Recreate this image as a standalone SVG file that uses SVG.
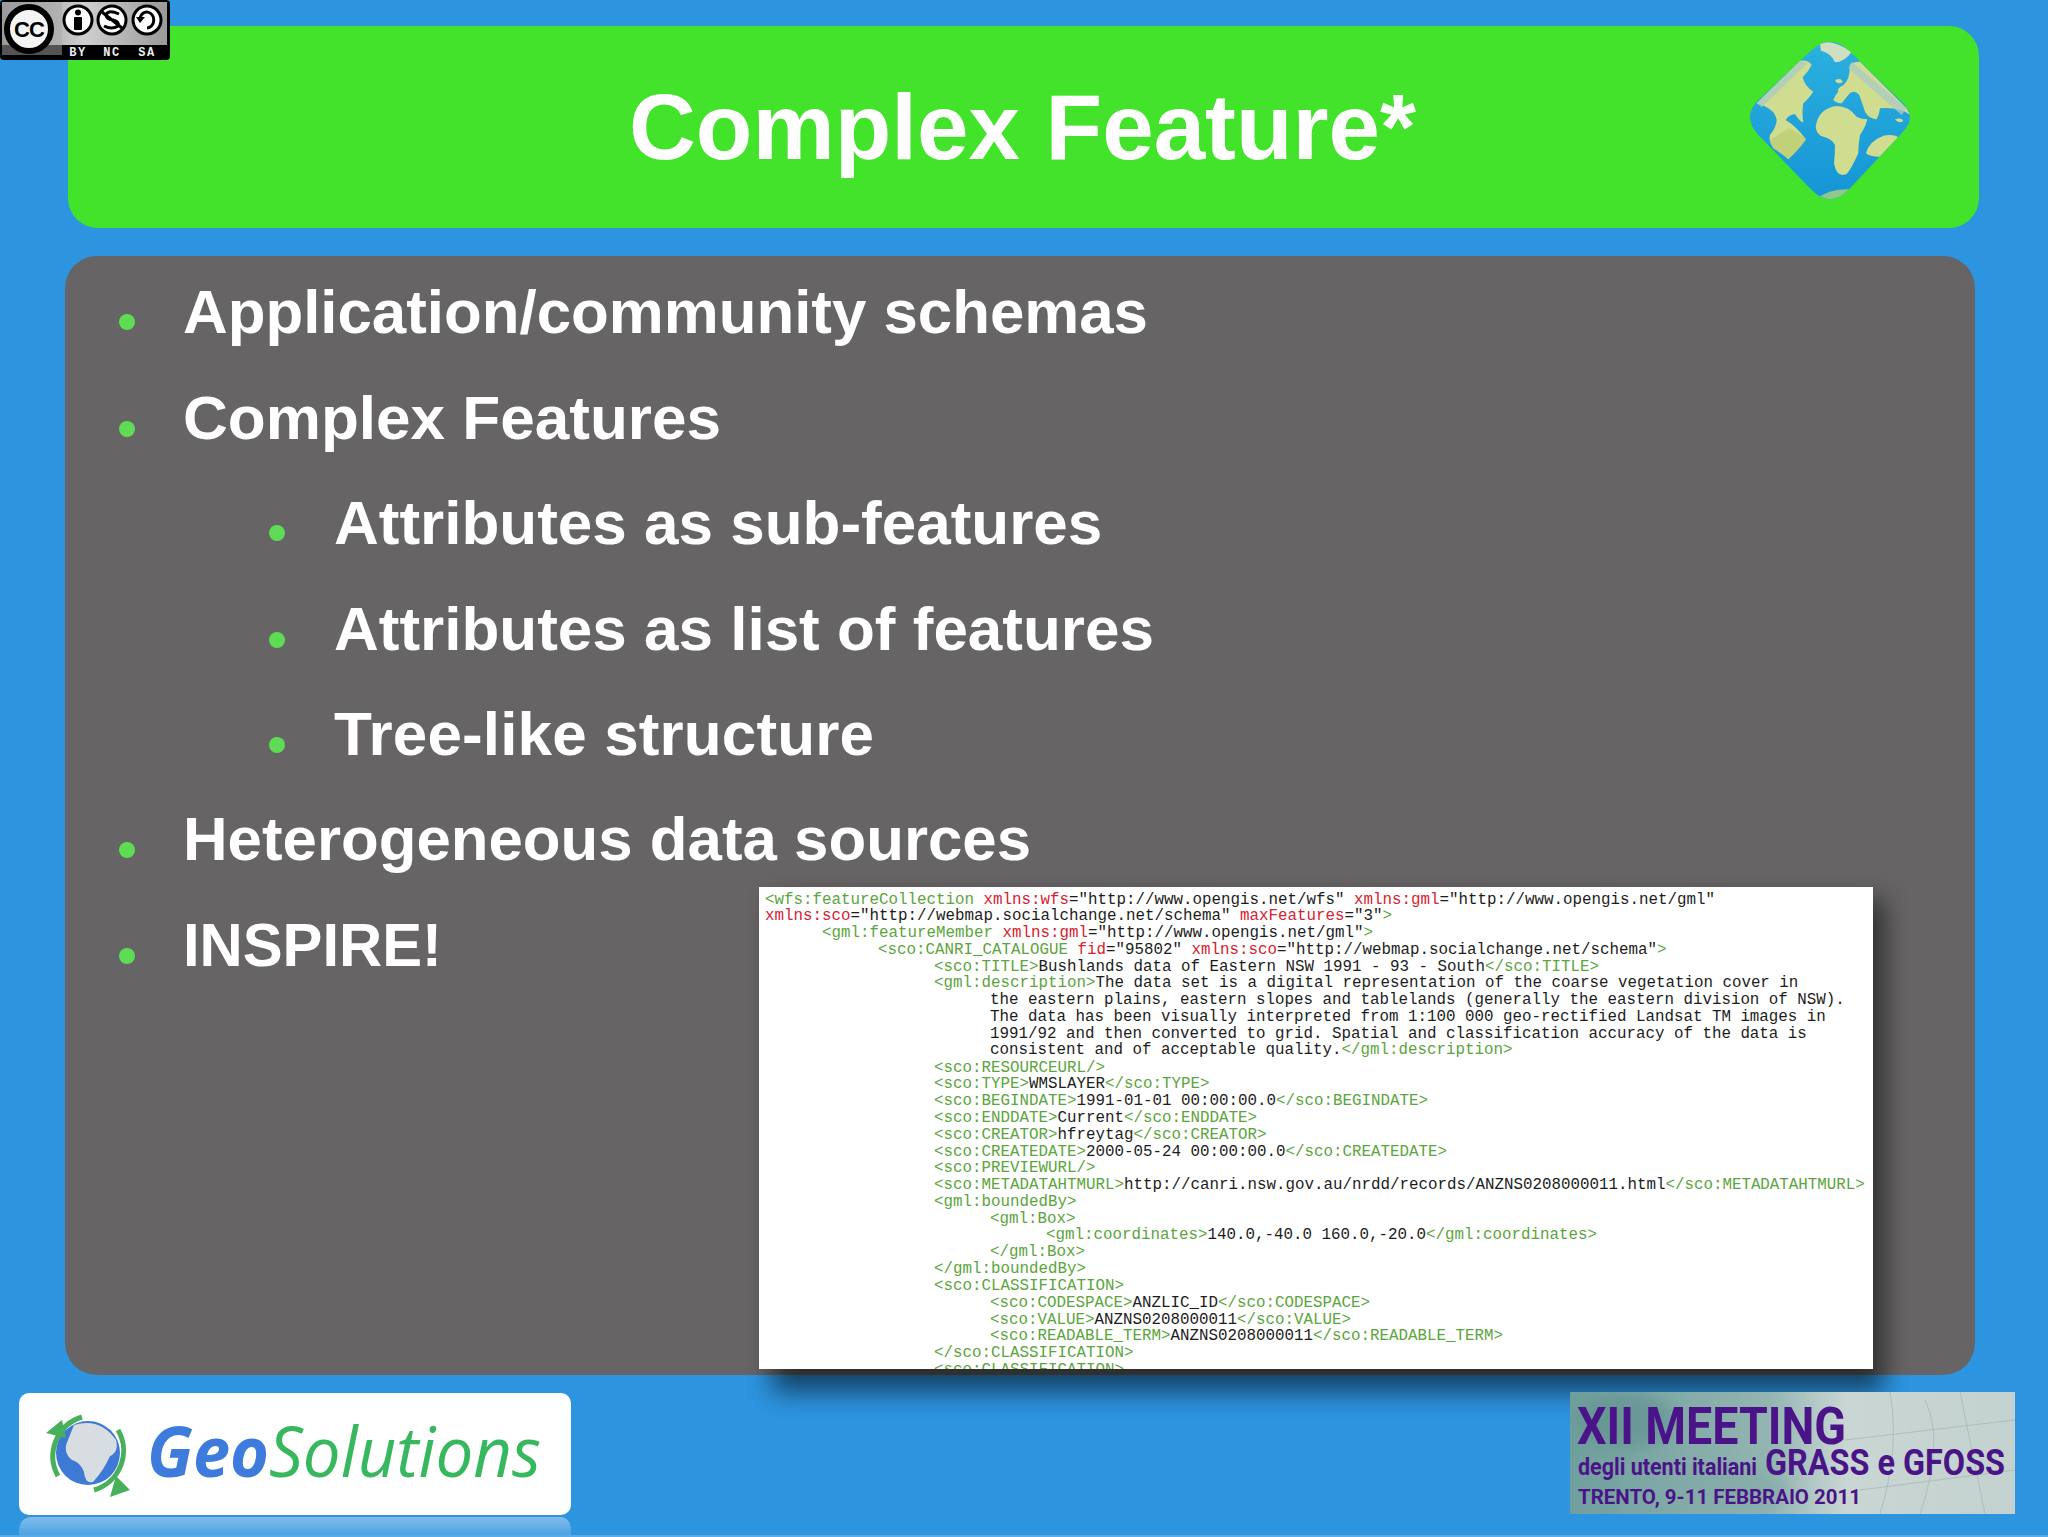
<svg xmlns="http://www.w3.org/2000/svg" width="2048" height="1537" viewBox="0 0 2048 1537">
<style>
.b{font-family:"Liberation Sans",Arial,sans-serif;font-weight:700;font-size:62px;fill:#fff}
.d{fill:#5fdc55}
.x{font-family:"Liberation Mono","Courier New",monospace;font-size:15.83px;fill:#1c1c1c}
.t{fill:#5aa53c}
.a{fill:#d9202f}
.m{font-family:"Roboto","Liberation Sans",sans-serif;font-weight:700;fill:#4a1488}
.l{fill:#d0dc90}
.cc{font-family:"Liberation Mono",monospace;font-weight:700;font-size:12px;letter-spacing:1.5px;fill:#eee;text-anchor:middle}
</style>
<defs>
<filter id="sh" x="-10%" y="-10%" width="120%" height="120%"><feGaussianBlur stdDeviation="13"/></filter>
<filter id="bl" x="-30%" y="-30%" width="160%" height="160%"><feGaussianBlur stdDeviation="8"/></filter>
<clipPath id="xc"><rect x="759" y="887" width="1114" height="482"/></clipPath>
<clipPath id="mc"><rect x="1570" y="1392" width="445" height="122"/></clipPath>
<clipPath id="gc"><path d="M275 90Q330 40 385 90L545 245Q595 290 545 340L385 510Q330 565 275 510L115 345Q65 290 115 240Z"/></clipPath>
<linearGradient id="rf" x1="0" y1="0" x2="0" y2="1"><stop offset="0" stop-color="#82bcea"/><stop offset="1" stop-color="#4da3e3"/></linearGradient>
<linearGradient id="mg" x1="0" y1="0" x2="1" y2="0"><stop offset="0" stop-color="#6f9f9d"/><stop offset=".45" stop-color="#93b5b1"/><stop offset=".62" stop-color="#c9d6d3"/><stop offset="1" stop-color="#c4d2cf"/></linearGradient>
<linearGradient id="cg" x1="0" y1="0" x2="1" y2="0"><stop offset="0" stop-color="#8e8e8e"/><stop offset=".5" stop-color="#cfcfcf"/><stop offset="1" stop-color="#9a9a9a"/></linearGradient>
<linearGradient id="sea" x1="0" y1="0" x2="0" y2="1"><stop offset="0" stop-color="#2cb0de"/><stop offset="1" stop-color="#1595d6"/></linearGradient>
</defs>

<rect id="background" width="2048" height="1537" fill="#2d94e0"/>
<rect x="0" y="1535" width="2048" height="2" fill="#5aaae8"/>

<g id="header">
<rect x="68" y="26" width="1911" height="202" rx="30" fill="#43e22b"/>
<text x="629" y="159" textLength="787" lengthAdjust="spacingAndGlyphs" style="font-family:'Liberation Sans',Arial,sans-serif;font-weight:700;font-size:93px;fill:#fff">Complex Feature*</text>
</g>

<g id="globe" transform="translate(1720 20) scale(.3333)">
<path d="M275 90Q330 40 385 90L545 245Q595 290 545 340L385 510Q330 565 275 510L115 345Q65 290 115 240Z" fill="url(#sea)"/>
<g clip-path="url(#gc)">
<path d="M300 72Q330 55 395 95Q375 125 345 127Q335 100 303 92Z" fill="#cfe0c0"/>
<path d="M240 122Q265 118 275 135Q265 155 248 172Q255 200 280 215Q262 240 250 250Q245 280 250 308Q235 300 225 282Q205 285 197 300Q225 315 258 358Q240 385 205 418Q185 400 160 385Q145 360 150 345Q170 320 170 300Q165 265 110 250Z" class="l"/>
<path d="M390 135Q400 125 420 125L560 265L570 285Q540 260 480 265Q478 285 470 298Q445 295 435 275Q425 245 418 225Q400 205 385 225L365 250Q350 250 340 240Q345 225 355 215Q350 205 370 195Q390 180 390 135Z" class="l"/>
<path d="M345 180Q365 172 368 186Q352 196 345 180Z" class="l"/>
<path d="M525 298Q545 292 550 303Q535 312 525 298Z" class="l"/>
<path d="M287 320Q295 265 350 258Q385 258 410 290Q425 298 442 298Q435 325 420 345Q415 375 415 400Q395 445 380 462Q350 475 342 430Q345 400 345 375Q335 355 310 350Q290 345 287 320Z" class="l"/>
<path d="M438 400Q445 365 490 347Q510 342 530 348L545 365Q510 395 490 410Q450 412 438 400Z" class="l"/>
<path d="M150 360L205 325Q240 340 258 358Q240 385 205 418Q185 400 160 385Z" fill="#b9cc70" opacity=".7"/>
<path d="M290 535Q340 500 410 510L350 550Z" fill="#8fc78c"/>
<path d="M240 122L110 250L125 262L262 130ZM395 125L560 265L545 285L385 145Z" fill="#a9ccc4" opacity=".75"/>
</g>
</g>

<g id="content-panel">
<rect x="65" y="256" width="1910" height="1119" rx="32" fill="#666464"/>
<circle class="d" cx="127" cy="322" r="8"/><text class="b" x="183" y="332.5" textLength="965" lengthAdjust="spacingAndGlyphs">Application/community schemas</text>
<circle class="d" cx="127" cy="429" r="8"/><text class="b" x="183" y="439" textLength="538" lengthAdjust="spacingAndGlyphs">Complex Features</text>
<circle class="d" cx="277" cy="533" r="8"/><text class="b" x="334" y="543.5">Attributes as sub-features</text>
<circle class="d" cx="277" cy="640" r="8"/><text class="b" x="334" y="650">Attributes as list of features</text>
<circle class="d" cx="277" cy="745" r="8"/><text class="b" x="334" y="755" textLength="540" lengthAdjust="spacing">Tree-like structure</text>
<circle class="d" cx="127" cy="850" r="8"/><text class="b" x="183" y="860" textLength="848" lengthAdjust="spacingAndGlyphs">Heterogeneous data sources</text>
<circle class="d" cx="127" cy="956" r="8"/><text class="b" x="183" y="966" textLength="259" lengthAdjust="spacingAndGlyphs">INSPIRE!</text>
</g>

<g id="xml-screenshot">
<rect x="772" y="900" width="1112" height="492" fill="#000" opacity=".55" filter="url(#sh)"/>
<rect x="759" y="887" width="1114" height="482" fill="#fff"/>
<g clip-path="url(#xc)">
<text class="x" x="765" y="903.5"><tspan class="t">&lt;wfs:featureCollection</tspan> <tspan class="a">xmlns:wfs</tspan>="http://www.opengis.net/wfs" <tspan class="a">xmlns:gml</tspan>="http://www.opengis.net/gml"</text>
<text class="x" x="765" y="920.3"><tspan class="a">xmlns:sco</tspan>="http://webmap.socialchange.net/schema" <tspan class="a">maxFeatures</tspan>="3"<tspan class="t">&gt;</tspan></text>
<text class="x" x="822" y="937.1"><tspan class="t">&lt;gml:featureMember</tspan> <tspan class="a">xmlns:gml</tspan>="http://www.opengis.net/gml"<tspan class="t">&gt;</tspan></text>
<text class="x" x="878" y="953.9"><tspan class="t">&lt;sco:CANRI_CATALOGUE</tspan> <tspan class="a">fid</tspan>="95802" <tspan class="a">xmlns:sco</tspan>="http://webmap.socialchange.net/schema"<tspan class="t">&gt;</tspan></text>
<text class="x" x="934" y="970.7"><tspan class="t">&lt;sco:TITLE&gt;</tspan>Bushlands data of Eastern NSW 1991 - 93 - South<tspan class="t">&lt;/sco:TITLE&gt;</tspan></text>
<text class="x" x="934" y="987"><tspan class="t">&lt;gml:description&gt;</tspan>The data set is a digital representation of the coarse vegetation cover in</text>
<text class="x" x="990" y="1004.3">the eastern plains, eastern slopes and tablelands (generally the eastern division of NSW).</text>
<text class="x" x="990" y="1021.1">The data has been visually interpreted from 1:100 000 geo-rectified Landsat TM images in</text>
<text class="x" x="990" y="1037.9">1991/92 and then converted to grid. Spatial and classification accuracy of the data is</text>
<text class="x" x="990" y="1054.2">consistent and of acceptable quality.<tspan class="t">&lt;/gml:description&gt;</tspan></text>
<text class="x t" x="934" y="1071.5">&lt;sco:RESOURCEURL/&gt;</text>
<text class="x" x="934" y="1088.3"><tspan class="t">&lt;sco:TYPE&gt;</tspan>WMSLAYER<tspan class="t">&lt;/sco:TYPE&gt;</tspan></text>
<text class="x" x="934" y="1105.1"><tspan class="t">&lt;sco:BEGINDATE&gt;</tspan>1991-01-01 00:00:00.0<tspan class="t">&lt;/sco:BEGINDATE&gt;</tspan></text>
<text class="x" x="934" y="1121.9"><tspan class="t">&lt;sco:ENDDATE&gt;</tspan>Current<tspan class="t">&lt;/sco:ENDDATE&gt;</tspan></text>
<text class="x" x="934" y="1138.7"><tspan class="t">&lt;sco:CREATOR&gt;</tspan>hfreytag<tspan class="t">&lt;/sco:CREATOR&gt;</tspan></text>
<text class="x" x="934" y="1155.5"><tspan class="t">&lt;sco:CREATEDATE&gt;</tspan>2000-05-24 00:00:00.0<tspan class="t">&lt;/sco:CREATEDATE&gt;</tspan></text>
<text class="x t" x="934" y="1172.3">&lt;sco:PREVIEWURL/&gt;</text>
<text class="x" x="934" y="1189.1"><tspan class="t">&lt;sco:METADATAHTMURL&gt;</tspan>http://canri.nsw.gov.au/nrdd/records/ANZNS0208000011.html<tspan class="t">&lt;/sco:METADATAHTMURL&gt;</tspan></text>
<text class="x t" x="934" y="1205.9">&lt;gml:boundedBy&gt;</text>
<text class="x t" x="990" y="1222.7">&lt;gml:Box&gt;</text>
<text class="x" x="1046" y="1239"><tspan class="t">&lt;gml:coordinates&gt;</tspan>140.0,-40.0 160.0,-20.0<tspan class="t">&lt;/gml:coordinates&gt;</tspan></text>
<text class="x t" x="990" y="1256.3">&lt;/gml:Box&gt;</text>
<text class="x t" x="934" y="1273.1">&lt;/gml:boundedBy&gt;</text>
<text class="x t" x="934" y="1289.9">&lt;sco:CLASSIFICATION&gt;</text>
<text class="x" x="990" y="1306.7"><tspan class="t">&lt;sco:CODESPACE&gt;</tspan>ANZLIC_ID<tspan class="t">&lt;/sco:CODESPACE&gt;</tspan></text>
<text class="x" x="990" y="1323.5"><tspan class="t">&lt;sco:VALUE&gt;</tspan>ANZNS0208000011<tspan class="t">&lt;/sco:VALUE&gt;</tspan></text>
<text class="x" x="990" y="1340.3"><tspan class="t">&lt;sco:READABLE_TERM&gt;</tspan>ANZNS0208000011<tspan class="t">&lt;/sco:READABLE_TERM&gt;</tspan></text>
<text class="x t" x="934" y="1357.1">&lt;/sco:CLASSIFICATION&gt;</text>
<text class="x t" x="934" y="1373.9">&lt;sco:CLASSIFICATION&gt;</text>
</g>
</g>

<g id="cc-badge">
<rect x="0" y="0" width="170" height="60" rx="4" fill="#000"/>
<rect x="2" y="2" width="165" height="43" fill="url(#cg)"/>
<rect x="2" y="2" width="60" height="53" fill="#a8a8a8" opacity=".5"/>
<circle cx="29" cy="29" r="22" fill="#f4f4f4" stroke="#000" stroke-width="6"/>
<text x="29" y="37" text-anchor="middle" style="font-family:'Liberation Sans',sans-serif;font-weight:700;font-size:22px;letter-spacing:-1px;fill:#000">CC</text>
<circle cx="78" cy="20" r="14" fill="#fff" stroke="#000" stroke-width="3"/>
<circle cx="78" cy="12.5" r="3" fill="#000"/><rect x="74" y="17" width="8" height="13" rx="1" fill="#000"/>
<circle cx="112" cy="20" r="14" fill="#fff" stroke="#000" stroke-width="3"/>
<path d="M102 12L122 28M119 14Q108 9 106 15Q106 19 113 20Q120 22 118 26Q112 30 104 26" fill="none" stroke="#000" stroke-width="3"/>
<circle cx="147" cy="20" r="14" fill="#fff" stroke="#000" stroke-width="3"/>
<path d="M140 18A7 8 0 1 1 147 28" fill="none" stroke="#000" stroke-width="3"/><path d="M136 17H145L140 23Z" fill="#000"/>
<text class="cc" x="78" y="56">BY</text><text class="cc" x="112" y="56">NC</text><text class="cc" x="147" y="56">SA</text>
</g>

<g id="geosolutions-logo">
<path d="M19 1535V1532Q19 1517 32 1517H560Q571 1517 571 1532V1535Z" fill="url(#rf)"/>
<rect x="19" y="1393" width="552" height="122" rx="10" fill="#fff"/>
<circle cx="88" cy="1453" r="32" fill="#3f79d6"/>
<path d="M74 1425Q100 1417 116 1440Q119 1452 110 1456Q104 1470 93 1482Q85 1484 84 1472Q80 1462 72 1460Q62 1452 68 1440Q72 1430 74 1425Z" fill="#d8dde2"/>
<path d="M58 1476A41 41 0 0 1 82 1417M118 1430A41 41 0 0 1 94 1490" fill="none" stroke="#46b05a" stroke-width="5"/>
<path d="M46 1433L62 1420L66 1438ZM116 1476L130 1490L110 1497Z" fill="#46b05a"/>
<text x="147" y="1477" style="font-family:'Open Sans','Noto Sans',sans-serif;font-style:italic;font-size:70px;font-weight:700;fill:#3d7bdc" textLength="122" lengthAdjust="spacingAndGlyphs">Geo</text>
<text x="269" y="1477" style="font-family:'Open Sans','Noto Sans',sans-serif;font-style:italic;font-size:70px;font-weight:400;fill:#38b85e" textLength="272" lengthAdjust="spacingAndGlyphs">Solutions</text>
</g>

<g id="meeting-logo">
<rect x="1570" y="1392" width="445" height="122" fill="url(#mg)"/>
<g clip-path="url(#mc)">
<ellipse cx="1625" cy="1420" rx="50" ry="28" fill="#5f908f" opacity=".6" filter="url(#bl)"/>
<ellipse cx="1730" cy="1490" rx="60" ry="22" fill="#80a9a6" opacity=".6" filter="url(#bl)"/>
<path d="M1890 1392Q1900 1450 1880 1514M1925 1400Q1945 1440 1920 1514M1960 1392L1985 1514M1845 1440L2015 1420M1860 1490L2015 1470" fill="none" stroke="#9fb0ad" stroke-width="1" opacity=".6"/>
</g>
<text class="m" x="1577" y="1444" style="font-size:52px" textLength="269" lengthAdjust="spacingAndGlyphs">XII MEETING</text>
<text class="m" x="1578" y="1475" style="font-size:23px" textLength="179" lengthAdjust="spacingAndGlyphs">degli utenti italiani</text>
<text class="m" x="1765" y="1475" style="font-size:37px" textLength="240" lengthAdjust="spacingAndGlyphs">GRASS e GFOSS</text>
<text class="m" x="1578" y="1504" style="font-size:21px" textLength="283" lengthAdjust="spacingAndGlyphs">TRENTO, 9-11 FEBBRAIO 2011</text>
</g>
</svg>
